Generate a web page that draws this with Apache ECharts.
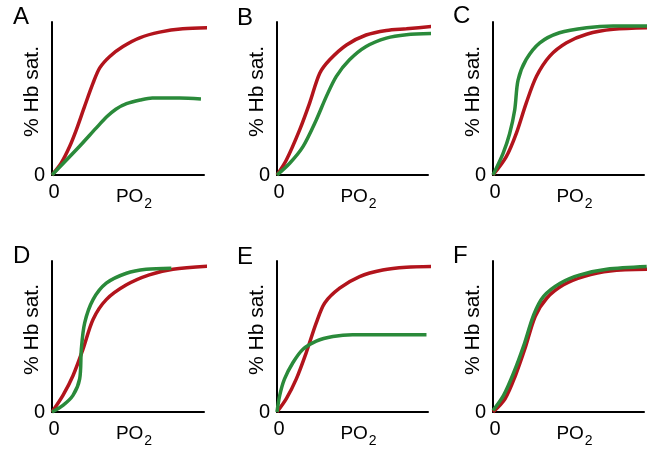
<!DOCTYPE html>
<html><head><meta charset="utf-8">
<script src="https://cdn.jsdelivr.net/npm/echarts@6/dist/echarts.min.js"></script>
<style>html,body{margin:0;padding:0;background:#fff}#c{width:655px;height:449px}</style>
</head><body><div id="c"></div>
<script>
// Panel letters and axis labels
const panelLetters = ['A','B','C','D','E','F'];
const yAxisName = '% Hb sat.';
const xAxisName = 'PO';
const xAxisSub = '2';
const tickLabels = ['0'];

// Panel A
const aRedX = [0, 6, 11.6, 16, 21.5, 27, 31.4, 38, 46.7, 57.7, 70.8, 86, 105];
const aRedY = [0, 7.7, 18.6, 29.5, 45, 60, 70, 77.5, 84, 89.7, 93.4, 95.6, 96.3];
const aGreenX = [0, 18, 29, 36, 42, 49, 58, 66, 84, 98];
const aGreenY = [0, 18.6, 30.6, 38, 43, 46.6, 49, 50.3, 50.3, 49.7];
// Panel B
const bRedX = [0, 6.2, 15, 21.6, 28.3, 34.9, 46, 59, 72.4, 85.7, 104.4];
const bRedY = [0, 9.8, 29.5, 47, 66.5, 75.3, 85, 91.5, 94.5, 95.6, 97.2];
const bGreenX = [0, 8.4, 17.2, 26, 32.7, 39.3, 48, 59, 72.4, 85.7, 103];
const bGreenY = [0, 7.7, 18.6, 36, 51.4, 64.5, 75.3, 84, 89.5, 91.7, 92.5];
// Panel C
const cRedX = [0, 8.8, 15.5, 22, 28.8, 37.6, 48.7, 62, 79.6, 104.4];
const cRedY = [0, 12, 27.4, 47, 64.5, 77.7, 86.4, 92, 95.2, 96.3];
const cGreenX = [0, 6.6, 11, 14.4, 16.6, 22, 31, 44, 62, 79.6, 104.4];
const cGreenY = [0, 14, 27, 42.7, 62, 75.5, 86.4, 93, 96.3, 97.4, 97.4];
// Panel D
const dRedX = [0, 7.2, 13.8, 20.4, 27, 35.7, 49, 64, 79.6, 105];
const dRedY = [0, 11, 24, 41.6, 61.3, 74.4, 84.2, 90.8, 94.5, 96.7];
const dGreenX = [0, 7.2, 13.8, 18.2, 19.3, 21.5, 27, 35.7, 49, 62, 78.5];
const dGreenY = [0, 4.4, 11, 21.9, 41.6, 59, 74.4, 85.3, 91.9, 94.5, 95.2];
// Panel E
const eRedX = [0, 6.2, 12.8, 19.4, 26, 31.6, 41.5, 54.7, 70, 85.7, 103];
const eRedY = [0, 8.8, 21.9, 39.4, 59, 72.2, 82, 89.7, 94, 95.8, 96.3];
const eGreenX = [0, 1.8, 5, 10.6, 17.2, 26, 37, 50, 72.4, 99];
const eGreenY = [0, 11, 21.9, 32.8, 41.6, 47, 50, 51.2, 51.2, 51.2];
// Panel F
const fRedX = [0, 8, 14.8, 21.4, 28, 35.7, 46.7, 60, 77.5, 104.4];
const fRedY = [0, 8.8, 24, 42.7, 63.4, 75.5, 84.2, 89.7, 93.4, 94.5];
const fGreenX = [0, 7, 13.7, 20.3, 27, 33.5, 44.5, 57.7, 75.3, 101.8];
const fGreenY = [1, 11, 26, 43.8, 64.5, 76.6, 85.3, 90.8, 94.5, 96.3];

const panels = [
  {red:[aRedX,aRedY], green:[aGreenX,aGreenY]},
  {red:[bRedX,bRedY], green:[bGreenX,bGreenY]},
  {red:[cRedX,cRedY], green:[cGreenX,cGreenY]},
  {red:[dRedX,dRedY], green:[dGreenX,dGreenY]},
  {red:[eRedX,eRedY], green:[eGreenX,eGreenY]},
  {red:[fRedX,fRedY], green:[fGreenX,fGreenY]}
];
const zip = (xs, ys) => xs.map((x,i)=>[x, ys[i]]);

const RED = '#b2141c', GREEN = '#2a8a3a';
const FONT = 'Liberation Sans, Arial, Helvetica, sans-serif';
const gridLefts = [52, 277, 493];
const gridWidths = [152, 151, 151];
const gridTops = [22, 261];
const gridHeights = [153, 152];
const letterPos = [[13,5],[237,6],[453,4],[13,244],[237,245],[453,244]];

const grids=[], xAxes=[], yAxes=[], series=[], graphics=[];
panels.forEach((p,i)=>{
  const col = i%3, row = Math.floor(i/3);
  grids.push({left:gridLefts[col], top:gridTops[row], width:gridWidths[col], height:gridHeights[row]});
  xAxes.push({
    gridIndex:i, type:'value', min:0, max:100, interval:100,
    axisLine:{show:true, onZero:false, lineStyle:{color:'#000', width:2}},
    axisTick:{show:false}, splitLine:{show:false},
    axisLabel:{show:true, margin:7, color:'#000', fontSize:20, fontFamily:FONT, padding:[0,0,0,4],
      formatter:v=> v===0 ? tickLabels[0] : ''},
    name:'{n|'+xAxisName+'}{s|'+xAxisSub+'}', nameLocation:'middle', nameGap:9, nameMoveOverlap:false,
    nameTextStyle:{padding:[0,0,0,12], rich:{
      n:{fontSize:19, fontFamily:FONT, color:'#000', verticalAlign:'bottom', lineHeight:22},
      s:{fontSize:14, fontFamily:FONT, color:'#000', verticalAlign:'bottom', lineHeight:22, padding:[0,0,-5,1]}
    }}
  });
  yAxes.push({
    gridIndex:i, type:'value', min:0, max:100, interval:100,
    axisLine:{show:true, onZero:false, lineStyle:{color:'#000', width:2}},
    axisTick:{show:false}, splitLine:{show:false},
    axisLabel:{show:true, margin:7, color:'#000', fontSize:20, fontFamily:FONT,
      formatter:v=> v===0 ? tickLabels[0] : ''},
    name:yAxisName, nameLocation:'middle', nameGap:9, nameMoveOverlap:false,
    nameTextStyle:{fontSize:21, fontFamily:FONT, color:'#000', padding:[0,0,0,14]}
  });
  series.push({type:'line', xAxisIndex:i, yAxisIndex:i, data:zip(p.red[0],p.red[1]),
    smooth:0.3, showSymbol:false, clip:false, lineStyle:{color:RED, width:3.5}, z:2});
  series.push({type:'line', xAxisIndex:i, yAxisIndex:i, data:zip(p.green[0],p.green[1]),
    smooth:0.3, showSymbol:false, clip:false, lineStyle:{color:GREEN, width:3.5}, z:3});
  graphics.push({type:'text', left:letterPos[i][0], top:letterPos[i][1],
    style:{text:panelLetters[i], fontSize:24, fontFamily:FONT, fill:'#000'}});
});

const chart = echarts.init(document.getElementById('c'), null, {renderer:'canvas'});
chart.setOption({
  animation:false, backgroundColor:'#fff',
  grid:grids, xAxis:xAxes, yAxis:yAxes, series:series, graphic:graphics
});
</script></body></html>
